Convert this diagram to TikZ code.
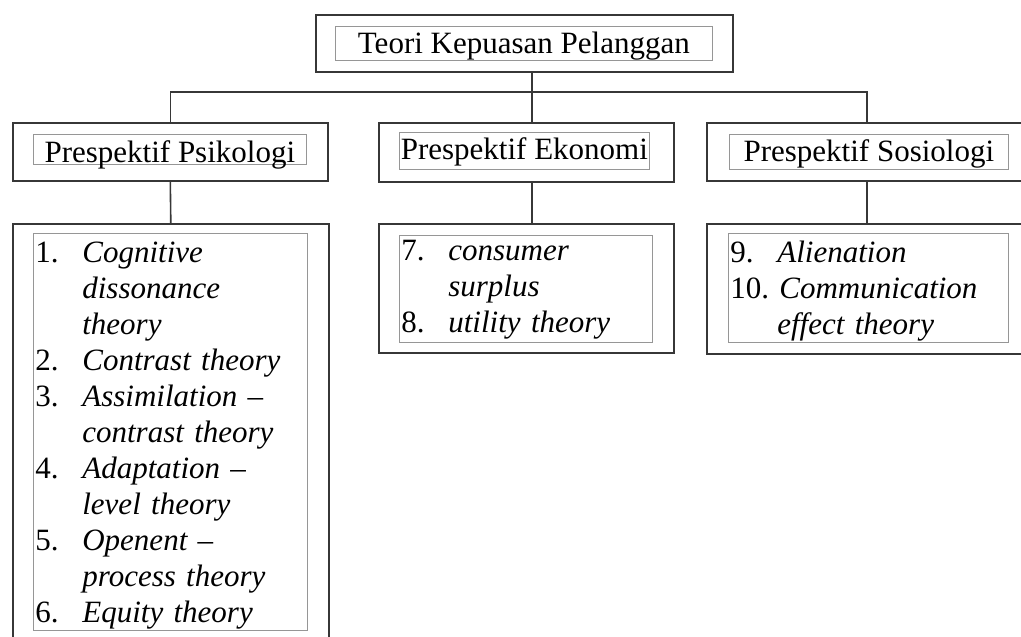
\documentclass[tikz,border=0pt]{standalone}
\usepackage{fontspec}
\setmainfont{Liberation Serif}
\usepackage{tikz}
\usetikzlibrary{calc}
\usepackage{xcolor}
\definecolor{framegray}{RGB}{150,150,150}
\definecolor{linkgray}{RGB}{55,55,55}
\newcommand{\itm}[2]{\makebox[47pt][l]{#1}\textit{#2}}
\newcommand{\cont}[1]{\hspace*{47pt}\textit{#1}}

\begin{document}
\begin{tikzpicture}[x=1pt, y=-1pt,
  outerbox/.style={draw=linkgray, line width=1.6pt, anchor=north west, inner sep=0pt},
  innerbox/.style={draw=framegray, line width=0.7pt, anchor=north west, inner sep=0pt,
    font=\fontsize{31pt}{36pt}\selectfont},
  listbox/.style={innerbox, inner xsep=2pt, align=left},
  link/.style={draw=linkgray, line width=1.6pt}]
  \useasboundingbox (0,0) rectangle (1021,637);

  % top
  \node[outerbox, minimum width=417pt, minimum height=57pt] (teori) at (315,14) {};
  \node[innerbox, minimum width=377pt, minimum height=34pt, text height=27pt, text depth=7pt]
    (teori-in) at (335,26) {Teori Kepuasan Pelanggan};

  % perspectives
  \node[outerbox, minimum width=315pt, minimum height=58pt] (psiko) at (12,122) {};
  \node[innerbox, minimum width=273pt, minimum height=30pt, text height=28pt, text depth=2pt]
    (psiko-in) at (33,134) {Prespektif Psikologi};

  \node[outerbox, minimum width=295pt, minimum height=59pt] (ekon) at (378,122) {};
  \node[innerbox, minimum width=250pt, minimum height=37pt, text height=27pt, text depth=10pt]
    (ekon-in) at (399,132) {Prespektif Ekonomi};

  \node[outerbox, minimum width=320pt, minimum height=58pt] (sosio) at (706,122) {};
  \node[innerbox, minimum width=279pt, minimum height=35pt, text height=27pt, text depth=8pt]
    (sosio-in) at (729,134) {Prespektif Sosiologi};

  % theory lists
  \node[outerbox, minimum width=316pt, minimum height=430pt] (psiko-list) at (12,223) {};
  \node[listbox, text width=270pt, minimum height=397pt, text height=29pt, text depth=368pt]
    (psiko-items) at (33,233) {\itm{1.}{Cognitive}\\ \cont{dissonance}\\ \cont{theory}\\
      \itm{2.}{Contrast theory}\\ \itm{3.}{Assimilation --}\\ \cont{contrast theory}\\
      \itm{4.}{Adaptation --}\\ \cont{level theory}\\ \itm{5.}{Openent --}\\
      \cont{process theory}\\ \itm{6.}{Equity theory}};

  \node[outerbox, minimum width=295pt, minimum height=129pt] (ekon-list) at (378,223) {};
  \node[listbox, text width=249pt, minimum height=107pt, text height=25pt, text depth=82pt]
    (ekon-items) at (399,235) {\itm{7.}{consumer}\\ \cont{surplus}\\ \itm{8.}{utility theory}};

  \node[outerbox, minimum width=320pt, minimum height=130pt] (sosio-list) at (706,223) {};
  \node[listbox, text width=276pt, minimum height=109pt, text height=29pt, text depth=80pt]
    (sosio-items) at (728,233) {\itm{9.}{Alienation}\\ 10.\ \textit{Communication}\\
      \cont{effect theory}};

  % connectors
  \coordinate (bus) at (532,92);
  \draw[link] (teori.south -| bus) -- (ekon.north -| bus);
  \draw[link] (psiko.north) |- (bus) -| (sosio.north);
  \draw[link] (psiko.south) -- (psiko-list.north);
  \draw[link] (ekon.south -| bus) -- (ekon-list.north -| bus);
  \draw[link] (sosio.south) -- (sosio-list.north);

\end{tikzpicture}
\end{document}
